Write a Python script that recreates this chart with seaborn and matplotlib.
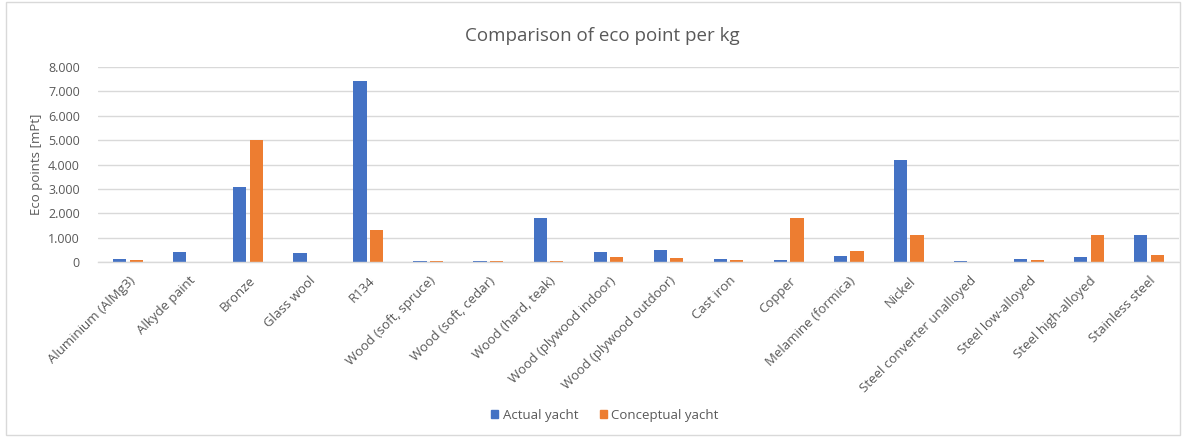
import matplotlib
matplotlib.use("Agg")
import matplotlib.pyplot as plt
import matplotlib.ticker as mticker
from matplotlib.patches import Rectangle
from matplotlib.transforms import ScaledTranslation
import seaborn as sns
import pandas as pd

materials = [
    "Aluminium (AlMg3)", "Alkyde paint", "Bronze", "Glass wool", "R134",
    "Wood (soft, spruce)", "Wood (soft, cedar)", "Wood (hard, teak)",
    "Wood (plywood indoor)", "Wood (plywood outdoor)", "Cast iron", "Copper",
    "Melamine (formica)", "Nickel", "Steel converter unalloyed",
    "Steel low-alloyed", "Steel high-alloyed", "Stainless steel",
]
actual_yacht = [120, 420, 3070, 360, 7430, 50, 50, 1820, 420, 510, 120, 90,
                250, 4180, 50, 110, 190, 1100]
conceptual_yacht = [80, 0, 5000, 0, 1300, 50, 50, 50, 220, 180, 90, 1820,
                    440, 1100, 0, 80, 1120, 280]
series_names = ["Actual yacht", "Conceptual yacht"]
y_ticks = [0, 1000, 2000, 3000, 4000, 5000, 6000, 7000, 8000]

df = pd.DataFrame({
    "Material": materials * 2,
    "Series": [series_names[0]] * len(materials) + [series_names[1]] * len(materials),
    "Value": actual_yacht + conceptual_yacht,
})

sns.set_theme(style="white")
plt.rcParams["font.family"] = ["Open Sans", "DejaVu Sans"]
text_color = "#595959"
colors = ["#4472C4", "#ED7D31"]

fig = plt.figure(figsize=(11.87, 4.37), dpi=100)
ax = fig.add_axes([98 / 1187, 1 - 262 / 437, (1179 - 98) / 1187, (262 - 67) / 437])

sns.barplot(data=df, x="Material", y="Value", hue="Series", order=materials,
            hue_order=series_names, palette=colors, saturation=1,
            width=0.55, gap=0.2, ax=ax, legend=False, errorbar=None,
            edgecolor="none")

ax.set_ylim(0, 8000)
ax.set_xlim(-0.5, len(materials) - 0.5)
ax.set_yticks(y_ticks)
ax.yaxis.set_major_formatter(mticker.FuncFormatter(
    lambda v, _: "0" if v == 0 else f"{int(v):,}".replace(",", ".")))
ax.grid(axis="y", color="#D9D9D9", linewidth=1)
ax.set_axisbelow(True)
for s in ["top", "right", "left"]:
    ax.spines[s].set_visible(False)
ax.spines["bottom"].set_color("#D9D9D9")
ax.spines["bottom"].set_linewidth(1)

ax.tick_params(axis="y", length=0, pad=13, labelsize=9, labelcolor=text_color)
ax.tick_params(axis="x", length=0, pad=12, labelsize=9.5, labelcolor=text_color)
shift = ScaledTranslation(5 / 100, 0, fig.dpi_scale_trans)
for lbl in ax.get_xticklabels():
    lbl.set_rotation(45)
    lbl.set_ha("right")
    lbl.set_va("center")
    lbl.set_rotation_mode("anchor")
    lbl.set_transform(lbl.get_transform() + shift)

ax.set_xlabel("")
ax.set_ylabel("Eco points [mPt]", fontsize=9.5, color=text_color, labelpad=4)

fig.text(602 / 1187, 1 - 36 / 437, "Comparison of eco point per kg",
         ha="center", va="center", fontsize=13.5, color=text_color)

# legend at the bottom centre
handles = [Rectangle((0, 0), 1, 1, color=c) for c in colors]
fig.legend(handles, series_names, loc="center", ncol=2,
           bbox_to_anchor=(605 / 1187, 1 - 415 / 437), frameon=False,
           fontsize=9.5, labelcolor=text_color, handlelength=0.55,
           handleheight=0.55, handletextpad=0.35, columnspacing=1.6)

# chart area border
fig.patches.append(Rectangle((6 / 1187, 2 / 437), 1174 / 1187, 433 / 437,
                             transform=fig.transFigure, fill=False,
                             edgecolor="#D9D9D9", linewidth=1))

fig.savefig("out.png", dpi=100, facecolor="white")
